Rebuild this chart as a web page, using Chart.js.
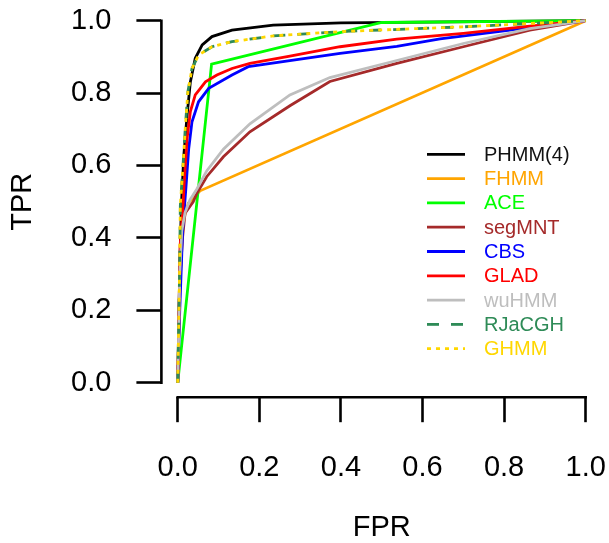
<!DOCTYPE html>
<html>
<head>
<meta charset="utf-8">
<script src="https://cdn.jsdelivr.net/npm/chart.js@4"></script>
<style>
  body { margin: 0; background: #fff; }
  #wrap { width: 609px; height: 543px; }
</style>
</head>
<body>
<div id="wrap"><canvas id="roc" width="609" height="543"></canvas></div>
<script>
// ROC curves, values
const tickValues = [0, 0.2, 0.4, 0.6, 0.8, 1.0];

const seriesNames = ['PHMM(4)', 'FHMM', 'ACE', 'segMNT', 'CBS', 'GLAD', 'wuHMM', 'RJaCGH', 'GHMM'];

const fprPHMM = [0, 0.003, 0.006, 0.009, 0.015, 0.023, 0.031, 0.043, 0.060, 0.084, 0.133, 0.234, 0.4, 0.6, 1];
const tprPHMM = [0, 0.2, 0.36, 0.491, 0.629, 0.739, 0.831, 0.896, 0.933, 0.956, 0.974, 0.988, 0.994, 0.996, 1];

const fprFHMM = [0, 0.005, 0.01, 0.014, 0.026, 0.055, 1];
const tprFHMM = [0, 0.25, 0.386, 0.45, 0.496, 0.53, 1];

const fprACE = [0, 0.083, 0.5, 1];
const tprACE = [0, 0.88, 0.995, 1];

const fprSegMNT = [0, 0.005, 0.012, 0.018, 0.038, 0.047, 0.071, 0.112, 0.177, 0.275, 0.373, 0.537, 0.70, 0.863, 1];
const tprSegMNT = [0, 0.28, 0.403, 0.468, 0.50, 0.523, 0.569, 0.624, 0.693, 0.765, 0.832, 0.882, 0.928, 0.974, 1];

const fprCBS = [0, 0.005, 0.012, 0.02, 0.027, 0.035, 0.051, 0.076, 0.133, 0.173, 0.398, 0.537, 0.643, 0.8, 1];
const tprCBS = [0, 0.2, 0.42, 0.537, 0.647, 0.721, 0.776, 0.813, 0.85, 0.873, 0.91, 0.929, 0.95, 0.972, 1];

const fprGLAD = [0, 0.002, 0.004, 0.006, 0.013, 0.017, 0.023, 0.031, 0.043, 0.068, 0.096, 0.133, 0.177, 0.275, 0.398, 0.537, 0.70, 0.863, 1];
const tprGLAD = [0, 0.1, 0.25, 0.38, 0.491, 0.574, 0.675, 0.749, 0.795, 0.831, 0.85, 0.868, 0.882, 0.902, 0.928, 0.949, 0.965, 0.985, 1];

const fprWuHMM = [0, 0.005, 0.01, 0.018, 0.03, 0.047, 0.071, 0.112, 0.177, 0.275, 0.373, 0.537, 0.70, 0.863, 1];
const tprWuHMM = [0, 0.3, 0.42, 0.47, 0.505, 0.535, 0.585, 0.645, 0.715, 0.795, 0.843, 0.89, 0.937, 0.978, 1];

const fprRJaCGH = [0, 0.0045, 0.0064, 0.013, 0.019, 0.025, 0.035, 0.051, 0.084, 0.133, 0.234, 0.4, 0.7, 1];
const tprRJaCGH = [0, 0.3, 0.49, 0.601, 0.712, 0.804, 0.868, 0.905, 0.928, 0.942, 0.958, 0.97, 0.983, 1];

const fprGHMM = [0, 0.0045, 0.0064, 0.013, 0.019, 0.025, 0.035, 0.051, 0.084, 0.133, 0.234, 0.4, 0.7, 1];
const tprGHMM = [0, 0.3, 0.49, 0.601, 0.712, 0.804, 0.868, 0.905, 0.928, 0.942, 0.958, 0.97, 0.983, 1];

const colors = ['#000000', '#FFA500', '#00FF00', '#A52A2A', '#0000FF', '#FF0000', '#BEBEBE', '#2E8B57', '#FFD700'];
const dashes = [[], [], [], [], [], [], [], [12, 12], [4, 5]];

const fprs = [fprPHMM, fprFHMM, fprACE, fprSegMNT, fprCBS, fprGLAD, fprWuHMM, fprRJaCGH, fprGHMM];
const tprs = [tprPHMM, tprFHMM, tprACE, tprSegMNT, tprCBS, tprGLAD, tprWuHMM, tprRJaCGH, tprGHMM];

const FONT = '"Liberation Sans", Arial, Helvetica, sans-serif';

const datasets = seriesNames.map((name, i) => ({
  label: name,
  data: fprs[i].map((x, j) => ({ x: x, y: tprs[i][j] })),
  borderColor: colors[i],
  backgroundColor: colors[i],
  borderWidth: 2.8,
  borderDash: dashes[i],
  pointRadius: 0,
  tension: 0,
  fill: false,
  order: seriesNames.length - 1 - i  // later series on top
}));

// axis lines only over 0..1 (like R), plus the legend
const rocExtras = {
  id: 'rocExtras',
  afterDraw(chart) {
    const ctx = chart.ctx;
    const xs = chart.scales.x, ys = chart.scales.y;
    const area = chart.chartArea;
    ctx.save();
    ctx.strokeStyle = '#000';
    ctx.lineWidth = 2.6;
    ctx.lineCap = 'square';
    ctx.beginPath();
    ctx.moveTo(xs.getPixelForValue(0), area.bottom);
    ctx.lineTo(xs.getPixelForValue(1), area.bottom);
    ctx.moveTo(area.left, ys.getPixelForValue(1));
    ctx.lineTo(area.left, ys.getPixelForValue(0));
    ctx.stroke();

    // legend
    ctx.lineCap = 'butt';
    ctx.lineWidth = 2.8;
    ctx.font = '20px ' + FONT;
    ctx.textBaseline = 'middle';
    ctx.textAlign = 'left';
    chart.data.datasets.forEach((ds, i) => {
      const yy = 154.3 + 24.3 * i;
      ctx.strokeStyle = ds.borderColor;
      ctx.setLineDash(ds.borderDash);
      ctx.beginPath();
      ctx.moveTo(427, yy);
      ctx.lineTo(465, yy);
      ctx.stroke();
      ctx.setLineDash([]);
      ctx.fillStyle = i === 0 ? '#111' : ds.borderColor;
      ctx.fillText(ds.label, 484, yy + 1);
    });
    ctx.restore();
  }
};

const fixedTicks = scale => { scale.ticks = tickValues.map(v => ({ value: v })); };
const noOverflow = s => { s.paddingLeft = 0; s.paddingRight = 0; s.paddingTop = 0; s.paddingBottom = 0; };

new Chart(document.getElementById('roc'), {
  type: 'line',
  data: { datasets: datasets },
  options: {
    responsive: false,
    animation: false,
    devicePixelRatio: 1,
    layout: { padding: { top: 6.2, right: 7, left: 0, bottom: 0 } },
    plugins: { legend: { display: false }, tooltip: { enabled: false } },
    scales: {
      x: {
        type: 'linear',
        min: -0.04,
        max: 1.04,
        afterBuildTicks: fixedTicks,
        afterFit: s => { s.height = 145.8; noOverflow(s); },
        border: { display: false },
        grid: { drawOnChartArea: false, drawTicks: true, tickLength: 25, tickWidth: 2.6, tickColor: '#000' },
        ticks: {
          autoSkip: false, maxRotation: 0, padding: 28, color: '#000',
          font: { family: FONT, size: 29 },
          callback: v => v.toFixed(1)
        },
        title: {
          display: true, text: 'FPR', color: '#000',
          font: { family: FONT, size: 29, lineHeight: 1 },
          padding: { top: 0, bottom: 0.5 }
        }
      },
      y: {
        type: 'linear',
        min: -0.04,
        max: 1.04,
        afterBuildTicks: fixedTicks,
        afterFit: s => { s.width = 161.4; noOverflow(s); },
        border: { display: false },
        grid: { drawOnChartArea: false, drawTicks: true, tickLength: 25, tickWidth: 2.6, tickColor: '#000' },
        ticks: {
          autoSkip: false, padding: 25, color: '#000',
          font: { family: FONT, size: 29 },
          callback: v => v.toFixed(1)
        },
        title: {
          display: true, text: 'TPR', color: '#000',
          font: { family: FONT, size: 29, lineHeight: 1 },
          padding: { top: 8.5, bottom: 0 }
        }
      }
    }
  },
  plugins: [rocExtras]
});
</script>
</body>
</html>
